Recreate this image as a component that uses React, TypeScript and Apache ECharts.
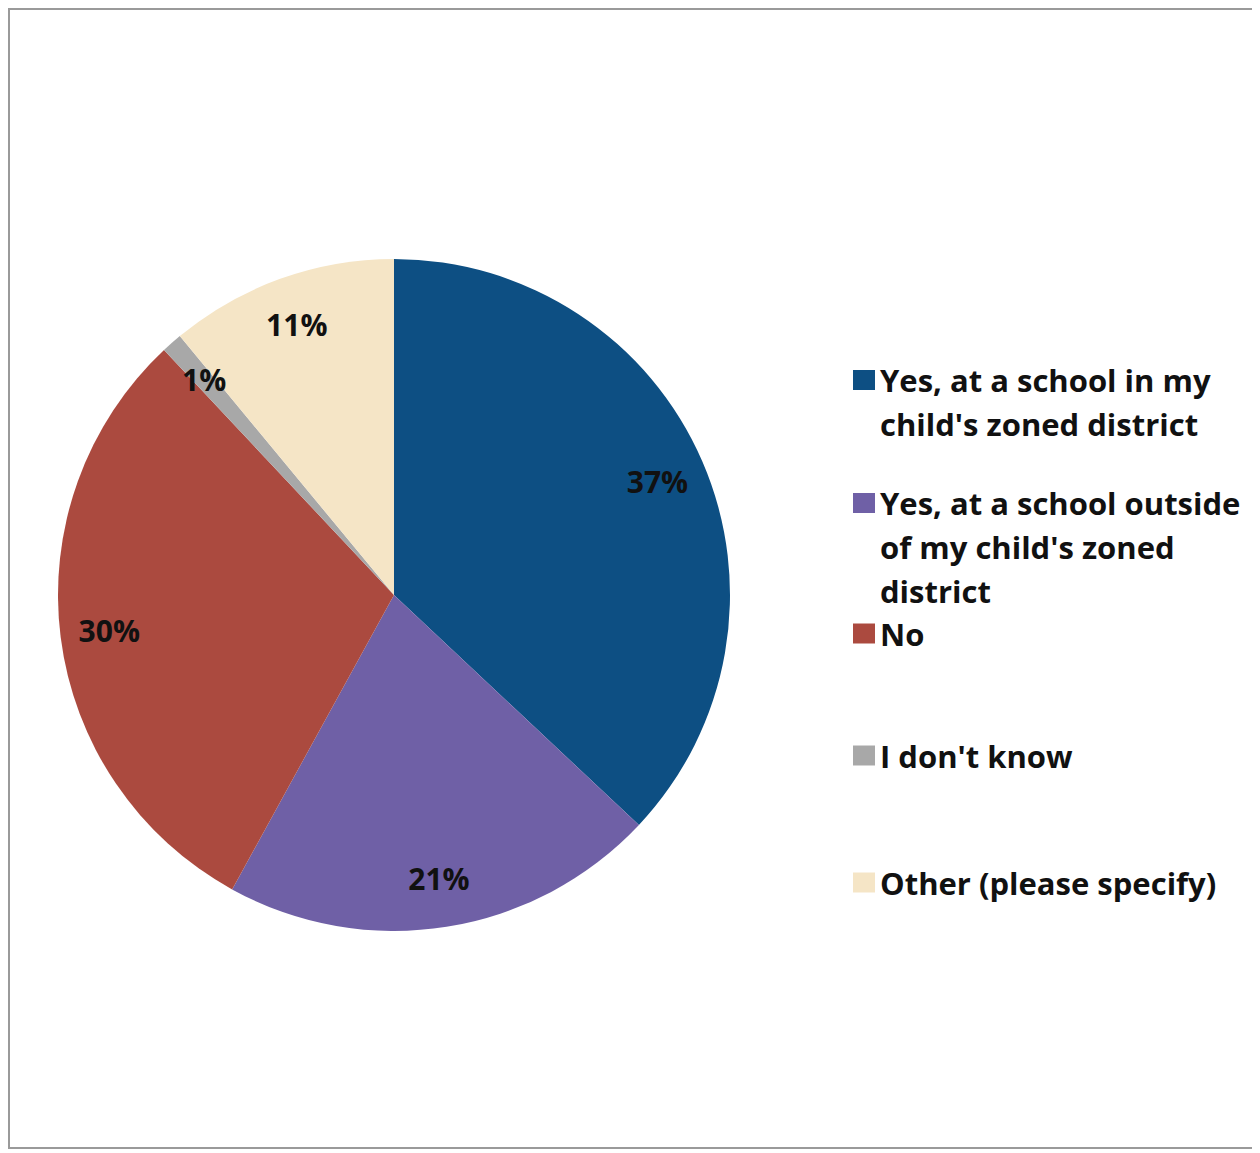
import React, { useEffect, useRef } from "react";
import * as echarts from "echarts";

const categories = [
  "Yes, at a school in my child's zoned district",
  "Yes, at a school outside of my child's zoned district",
  "No",
  "I don't know",
  "Other (please specify)",
];
const legendLines = [
  ["Yes, at a school in my", "child's zoned district"],
  ["Yes, at a school outside", "of my child's zoned", "district"],
  ["No"],
  ["I don't know"],
  ["Other (please specify)"],
];
const values = [37, 21, 30, 1, 11];
const colors = ["#0d4f83", "#6f60a6", "#ab4a3f", "#a8a8a8", "#f5e5c6"];

const FONT = "'Open Sans', 'DejaVu Sans', sans-serif";

export default function App() {
  const ref = useRef<HTMLDivElement>(null);
  useEffect(() => {
    if (!ref.current) return;
    const chart = echarts.init(ref.current, null, { renderer: "svg" });
    const iconCentersY = [372, 495, 625, 747, 874]; // chart coords
    const legends = categories.map((name, i) => {
      const n = legendLines[i].length;
      const LH = n > 1 ? 44 : 30;
      return {
        orient: "vertical",
        left: 845,
        top: iconCentersY[i] - ((2 * n - 1) * LH) / 2,
        padding: 0,
        itemWidth: 22,
        itemHeight: 20,
        itemGap: 0,
        icon: "rect",
        selectedMode: false,
        data: [name],
        formatter: () => "\n".repeat(n - 1) + legendLines[i].join("\n"),
        textStyle: {
          fontFamily: FONT,
          fontWeight: "bold",
          fontSize: 31,
          color: "#111",
          lineHeight: LH,
        },
      };
    });
    const data = categories.map((name, i) => ({
      name,
      value: values[i],
      itemStyle: { color: colors[i] },
    }));
    chart.setOption({
      animation: false,
      backgroundColor: "#ffffff",
      legend: legends,
      graphic: [
        {
          type: "rect",
          shape: { x: 1, y: 1, width: 1249, height: 1139 },
          style: { fill: "none", stroke: "#9a9a9a", lineWidth: 2 },
          silent: true,
          z: -10,
        },
      ],
      series: [
        {
          type: "pie",
          center: [386, 587],
          radius: 336,
          startAngle: 90,
          clockwise: true,
          label: { show: false },
          labelLine: { show: false },
          silent: true,
          data,
        },
        {
          type: "pie",
          center: [386, 587],
          radius: [232, 336],
          startAngle: 90,
          clockwise: true,
          silent: true,
          itemStyle: { color: "rgba(0,0,0,0)" },
          label: {
            show: true,
            position: "inside",
            formatter: "{c}%",
            fontFamily: FONT,
            fontWeight: "bold",
            fontSize: 30,
            color: "#111",
          },
          labelLine: { show: false },
          data: categories.map((name, i) => ({
            name,
            value: values[i],
            itemStyle: { color: "rgba(0,0,0,0)" },
          })),
        },
      ],
    });
    return () => chart.dispose();
  }, []);
  return <div ref={ref} style={{ width: 1252, height: 1145 }} />;
}
